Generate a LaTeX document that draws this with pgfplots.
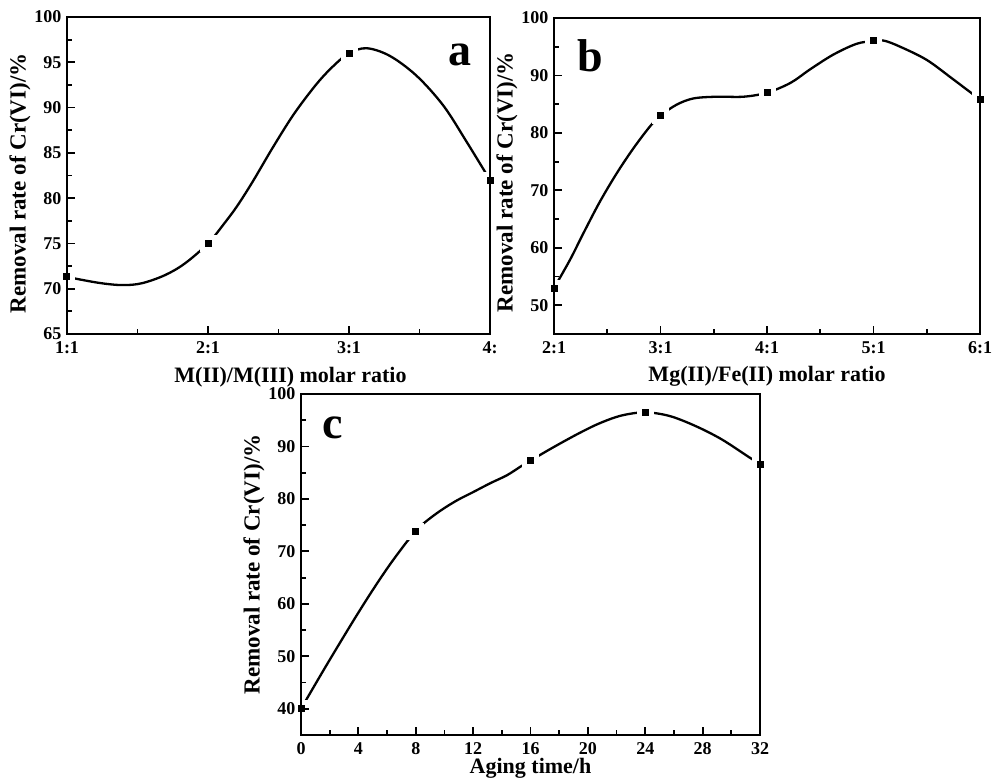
\documentclass[border=0pt]{standalone}
\usepackage{pgfplots}
\pgfplotsset{compat=1.18}
\usepackage{fontspec}
\setmainfont{Liberation Serif}
\pgfplotsset{
  panel/.style={
    scale only axis,
    anchor=south west,
    clip mode=individual,
    axis on top,
    tick align=inside,
    tick pos=left,
    /pgf/number format/assume math mode=true,
    axis line style={line width=2.3pt},
    major tick length=8pt,
    minor tick length=5pt,
    every tick/.style={line width=1.8pt, black},
    ticklabel style={font=\bfseries\fontsize{18}{18}\selectfont},
    xticklabel style={yshift=-4pt},
    yticklabel style={xshift=-2pt},
    ylabel={Removal rate of Cr(VI)/\%},
  },
  ylab/.style={every axis y label/.style={at={(ticklabel cs:#1,-3pt)}, rotate=90, anchor=south,
      font=\bfseries\fontsize{23}{23}\selectfont}},
  xlab/.style 2 args={every axis x label/.style={at={(rel axis cs:0.5,0)}, anchor=north, yshift=-#1, xshift=#2,
      font=\bfseries\fontsize{22}{22}\selectfont}},
  curve/.style={black, line width=2.3pt, smooth, tension=0.55, mark=square*, mark size=6pt,
      mark options={fill=black, draw=white, line width=5pt, solid}, mark indices={#1}},
}
\begin{document}
\begin{tikzpicture}
\useasboundingbox (0,0) rectangle (992pt,781pt);
% ---------------- panel a
\begin{axis}[panel, xlab={30pt}{12pt}, ylab=0.475,
  at={(67pt,447pt)}, width=423pt, height=317pt,
  xmin=1, xmax=4, ymin=65, ymax=100,
  xtick={1,2,3,4}, xticklabels={1:1,2:1,3:1,4:},
  minor xtick={1.5,2.5,3.5},
  ytick={65,70,...,100}, minor ytick={67.5,72.5,...,97.5},
  xlabel={M(II)/M(III) molar ratio},
]
\addplot[curve={1,7,15,21}] coordinates {
(1.0,71.3) (1.22,70.66) (1.39,70.4) (1.53,70.6) (1.695,71.5) (1.837,72.8)
(2.0,75.0) (2.12,77.3) (2.21,79.2) (2.32,81.9) (2.46,85.6) (2.61,89.3) (2.77,92.6)
(2.89,94.6) (3.0,96.0) (3.126,96.55) (3.29,95.7) (3.48,93.5) (3.67,90.2)
(3.835,86.2) (4.0,82.0)};
\node[font=\bfseries\fontsize{46}{46}\selectfont] at (rel axis cs:0.929,0.88) {a};
\end{axis}
% ---------------- panel b
\begin{axis}[panel, xlab={29pt}{0pt}, ylab=0.48,
  at={(554pt,447pt)}, width=426pt, height=316pt,
  xmin=2, xmax=6, ymin=45, ymax=100,
  xtick={2,3,4,5,6}, xticklabels={2:1,3:1,4:1,5:1,6:1},
  minor xtick={2.5,3.5,4.5,5.5},
  ytick={50,60,...,100}, minor ytick={45,55,...,95},
  xlabel={Mg(II)/Fe(II) molar ratio},
]
\addplot[curve={1,8,13,18,23}] coordinates {
(2.0,53.0) (2.15,57.9) (2.275,62.5) (2.43,68.0) (2.59,73.0) (2.745,77.3)
(2.9,81.1) (3.0,83.0) (3.15,84.9) (3.31,86.0) (3.53,86.3) (3.78,86.3) (4.0,87.0)
(4.22,88.7) (4.40,91.0) (4.62,93.6) (4.84,95.5) (5.0,96.0) (5.1,96.05) (5.25,95.0)
(5.50,92.7) (5.75,89.3) (6.0,85.8)};
\node[font=\bfseries\fontsize{46}{46}\selectfont] at (rel axis cs:0.085,0.88) {b};
\end{axis}
% ---------------- panel c
\begin{axis}[panel, xlab={20pt}{0pt}, ylab=0.5,
  at={(301pt,46pt)}, width=459pt, height=341pt,
  xmin=0, xmax=32, ymin=35, ymax=100,
  xtick={0,4,...,32}, minor xtick={2,6,...,30},
  ytick={40,50,...,100}, minor ytick={35,45,...,95},
  xlabel={Aging time/h},
]
\addplot[curve={1,8,16,21,26}] coordinates {
(0,40.0) (1.56,47.3) (2.72,52.6) (3.88,57.8) (5.04,62.8) (6.2,67.5) (7.37,71.8)
(8,73.8) (8.53,75.3) (9.69,77.7) (10.86,79.7) (12.0,81.3) (13.2,83.0) (14.35,84.5)
(15.27,86.1) (16,87.3) (17.5,89.7) (19.3,92.4) (20.8,94.4) (22.35,95.9) (24,96.5) (25.7,95.8)
(27.5,93.9) (29.3,91.4) (31.1,88.2) (32,86.6)};
\node[font=\bfseries\fontsize{46}{46}\selectfont] at (rel axis cs:0.07,0.9) {c};
\end{axis}
\end{tikzpicture}
\end{document}
